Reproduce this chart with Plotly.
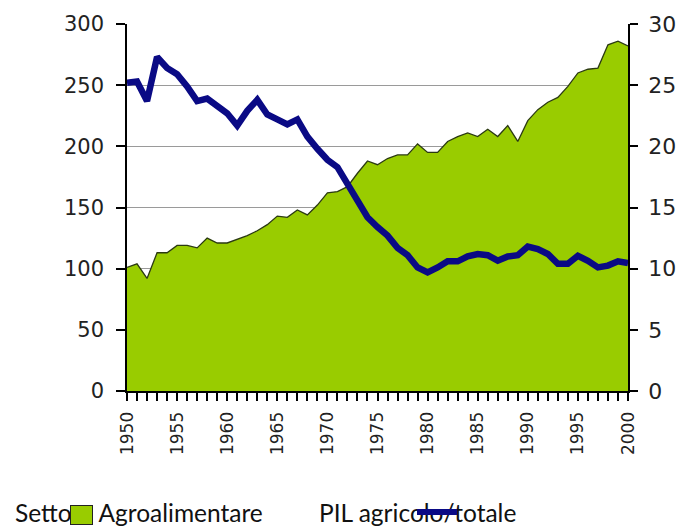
import plotly.graph_objects as go

years = list(range(1950, 2001))
agro = [101, 104, 92, 113, 113, 119, 119, 117, 125, 121,
        121, 124, 127, 131, 136, 143, 142, 148, 144, 152,
        162, 163, 167, 178, 188, 185, 190, 193, 193, 202,
        195, 195, 204, 208, 211, 208, 214, 208, 217, 204,
        221, 230, 236, 240, 249, 260, 263, 264, 283, 286,
        282]
pil = [25.2, 25.3, 23.7, 27.3, 26.4, 25.9, 24.9, 23.7, 23.9, 23.3,
       22.7, 21.7, 22.9, 23.8, 22.6, 22.2, 21.8, 22.2, 20.8, 19.8,
       18.9, 18.3, 16.9, 15.4, 14.2, 13.4, 12.7, 11.7, 11.1, 10.1,
       9.7, 10.1, 10.6, 10.6, 11.0, 11.2, 11.1, 10.65, 11.0, 11.1,
       11.8, 11.6, 11.2, 10.4, 10.4, 11.05, 10.65, 10.1, 10.25, 10.6,
       10.45]
x_ticks = [1950, 1955, 1960, 1965, 1970, 1975, 1980, 1985, 1990, 1995, 2000]
left_ticks = [0, 50, 100, 150, 200, 250, 300]
right_ticks = [0, 5, 10, 15, 20, 25, 30]
series_names = ["Settore Agroalimentare", "PIL agricolo/totale"]

W, H = 688, 528
L, R, T, B = 127, 639, 22.7, 390.7


def px(x):
    return (x - L) / (R - L)


def py(y):
    return (B - y) / (B - T)


fig = go.Figure()
fig.add_trace(go.Scatter(
    x=years, y=agro, name=series_names[0], mode="lines",
    fill="tozeroy", fillcolor="#99CC00",
    line=dict(color="#2b3a12", width=1.3), yaxis="y", showlegend=False))
fig.add_trace(go.Scatter(
    x=years, y=pil, name=series_names[1], mode="lines",
    line=dict(color="#0a0a85", width=6.5), yaxis="y2", showlegend=False))

tickfont_y = dict(family="DejaVu Sans", size=21, color="#222222")
fig.update_layout(
    width=W, height=H,
    margin=dict(l=L, r=W - R, t=T, b=H - B, pad=0),
    paper_bgcolor="white", plot_bgcolor="white",
    showlegend=False,
    xaxis=dict(
        range=[1950, 2000], tickmode="array", tickvals=x_ticks,
        ticktext=[str(v) for v in x_ticks], tickangle=-90,
        tickfont=dict(family="DejaVu Sans", size=17, color="#222222"),
        ticks="outside", ticklen=8, tickcolor="black", tickwidth=1.5,
        minor=dict(dtick=1, ticks="outside", ticklen=8, tickcolor="black", tickwidth=1.5),
        showline=True, linecolor="black", linewidth=2, showgrid=False,
        zeroline=False, ticklabelstandoff=4),
    yaxis=dict(
        range=[0, 300], tickmode="array", tickvals=left_ticks,
        tickfont=tickfont_y, ticks="outside", ticklen=9, tickcolor="black",
        tickwidth=1.5, showline=True, linecolor="black", linewidth=1.5,
        showgrid=True, gridcolor="#9a9a9a", gridwidth=1.3, zeroline=False,
        ticklabelstandoff=8),
    yaxis2=dict(
        range=[0, 30], tickmode="array", tickvals=right_ticks,
        tickfont=dict(family="DejaVu Sans", size=22, color="#222222"),
        ticks="outside", ticklen=8, tickcolor="black",
        tickwidth=1.5, showline=True, linecolor="black", linewidth=1.5,
        showgrid=False, zeroline=False, overlaying="y", side="right",
        ticklabelstandoff=6),
)

legend_font = dict(family="Lato", size=24.5, color="#111111")
fig.add_annotation(text=series_names[0], xref="paper", yref="paper",
                   x=px(12), y=py(513), xanchor="left", yanchor="middle",
                   showarrow=False, font=legend_font, borderpad=0)
fig.add_annotation(text=series_names[1], xref="paper", yref="paper",
                   x=px(322), y=py(513), xanchor="left", yanchor="middle",
                   showarrow=False, font=legend_font, borderpad=0)
# legend symbols drawn on top of the legend text (as in the reference)
fig.add_annotation(text=" ", xref="paper", yref="paper",
                   x=px(81), y=py(515.5), xanchor="center", yanchor="middle",
                   showarrow=False, width=21, height=18, borderpad=0,
                   bgcolor="#99CC00", bordercolor="#222222", borderwidth=1,
                   font=dict(size=2))
fig.add_annotation(text=" ", xref="paper", yref="paper",
                   x=px(444), y=py(512), xanchor="center", yanchor="middle",
                   showarrow=False, width=40, height=6, borderpad=0,
                   bgcolor="#0a0a85", borderwidth=0,
                   font=dict(size=2))

fig.write_html("out.html", config={"displayModeBar": False},
               post_script="document.body.style.margin='0px';")
